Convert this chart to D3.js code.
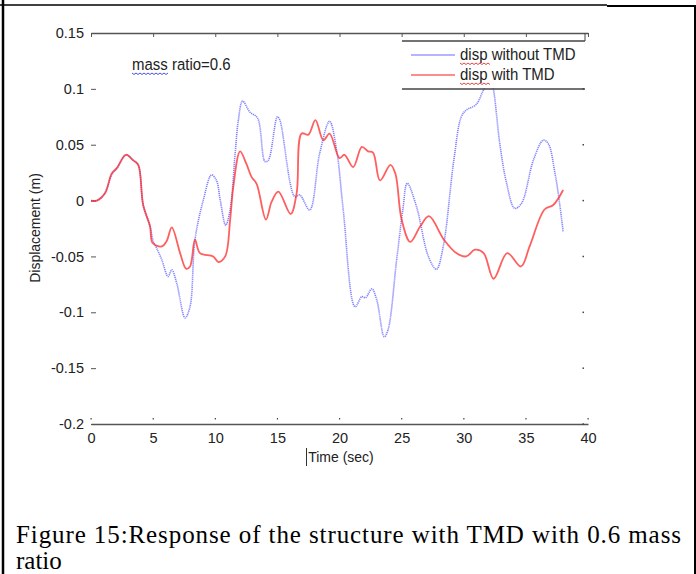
<!DOCTYPE html>
<html>
<head>
<meta charset="utf-8">
<script src="https://cdn.jsdelivr.net/npm/d3@7"></script>
<style>
  body { margin: 0; background: #fff; }
  svg { display: block; }
  .tick text { font-family: "Liberation Sans", Arial, sans-serif; font-size: 14.5px; fill: #222; }
</style>
</head>
<body>
<svg width="696" height="574"></svg>
<script>
// time (sec) and displacement (m)
var tWithout = [0, 0.5, 1.1, 1.7, 2.1, 2.8, 3.4, 3.8, 4.2, 4.75, 5.0, 5.3, 5.7, 6.2, 6.5, 6.9, 7.57, 7.97, 8.37, 9.04, 9.7, 10.1, 10.4, 10.84, 11.2, 11.6, 11.86, 12.2, 12.8, 13.4, 14.0, 14.27, 15.0, 15.2, 16.4, 16.8, 17.6, 18.4, 19.2, 19.77, 20.3, 21.25, 21.8, 22.1, 22.6, 23.0, 23.6, 23.9, 24.6, 25.1, 25.45, 26.2, 27.15, 27.8, 28.35, 29.2, 29.8, 30.2, 31.0, 31.6, 32.2, 32.4, 32.9, 33.45, 34.1, 34.65, 35.6, 36.4, 36.8, 37.35, 37.75, 38.0];
var dispWithout = [0, 0, 0.0065, 0.024, 0.029, 0.041, 0.036, 0.032, -0.004, -0.023, -0.036, -0.043, -0.053, -0.068, -0.062, -0.074, -0.105, -0.095, -0.035, 0.0005, 0.023, 0.018, 0.0005, -0.022, -0.008, 0.042, 0.072, 0.089, 0.079, 0.074, 0.035, 0.036, 0.075, 0.072, 0.0035, 0.005, -0.0084, 0.042, 0.071, 0.045, -0.0084, -0.095, -0.086, -0.087, -0.079, -0.089, -0.122, -0.116, -0.053, -0.008, 0.0155, -0.0055, -0.050, -0.0615, -0.041, 0.036, 0.075, 0.081, 0.086, 0.099, 0.108, 0.099, 0.051, 0.0155, -0.007, -0.0025, 0.036, 0.054, 0.051, 0.024, -0.0055, -0.028];

var tWith = [0, 0.46, 1.13, 1.66, 2.07, 2.82, 3.4, 3.8, 4.2, 4.75, 4.96, 5.7, 6.1, 6.5, 7.17, 7.65, 7.97, 8.37, 8.77, 9.84, 10.25, 10.8, 11.2, 11.45, 12.0, 12.5, 12.93, 13.33, 14.08, 14.54, 15.08, 16.07, 16.55, 16.95, 17.5, 18.06, 18.7, 19.2, 20.0, 20.4, 21.1, 21.8, 22.3, 22.7, 23.26, 24.1, 24.5, 25.0, 25.7, 26.5, 27.2, 28.4, 29.4, 30.2, 30.9, 31.6, 32.4, 33.5, 34.6, 35.3, 36.5, 37.2, 38.0];
var dispWith = [0, 0, 0.0065, 0.024, 0.029, 0.041, 0.036, 0.032, -0.004, -0.023, -0.038, -0.041, -0.036, -0.024, -0.047, -0.061, -0.059, -0.035, -0.047, -0.050, -0.055, -0.050, -0.017, 0.012, 0.044, 0.033, 0.021, 0.015, -0.017, -0.001, 0.008, -0.012, 0.0065, 0.060, 0.059, 0.072, 0.054, 0.060, 0.038, 0.041, 0.030, 0.048, 0.044, 0.043, 0.018, 0.032, 0.024, -0.017, -0.037, -0.023, -0.014, -0.035, -0.047, -0.050, -0.044, -0.047, -0.070, -0.047, -0.059, -0.041, -0.008, -0.004, 0.0095];

var xTicks = [0, 5, 10, 15, 20, 25, 30, 35, 40];
var yTicks = [0.15, 0.1, 0.05, 0, -0.05, -0.1, -0.15, -0.2];
var yTickLabels = ["0.15", "0.1", "0.05", "0", "-0.05", "-0.1", "-0.15", "-0.2"];
var seriesNames = ["disp without TMD", "disp with TMD"];
var caption1 = "Figure 15:Response of the structure with TMD with 0.6 mass";
var caption2 = "ratio";

var svg = d3.select("svg");
svg.append("rect").attr("width", 696).attr("height", 574).attr("fill", "#fff");

// page frame
svg.append("line").attr("x1", 0).attr("x2", 607).attr("y1", 5).attr("y2", 5).attr("stroke", "#000").attr("stroke-width", 1.5);
svg.append("line").attr("x1", 607).attr("x2", 696).attr("y1", 6).attr("y2", 6).attr("stroke", "#000").attr("stroke-width", 2);
svg.append("line").attr("x1", 3).attr("x2", 3).attr("y1", 0).attr("y2", 574).attr("stroke", "#000").attr("stroke-width", 2.5);
svg.append("line").attr("x1", 695).attr("x2", 695).attr("y1", 5).attr("y2", 574).attr("stroke", "#000").attr("stroke-width", 2);

xScale = d3.scaleLinear().domain([0, 40]).range([91, 588]);
yScale = d3.scaleLinear().domain([-0.2, 0.15]).range([424, 33]);

// top axis: line + ticks pointing down, no labels
topAxis = d3.axisTop(xScale).tickValues(xTicks).tickSize(-4).tickSizeOuter(0).tickFormat("");
svg.append("g").attr("transform", "translate(0,33)").call(topAxis);

// bottom axis: line + labels, tick dots above
bottomAxis = d3.axisBottom(xScale).tickValues(xTicks).tickSize(0).tickSizeOuter(0).tickPadding(9).tickFormat(d3.format("d"));
svg.append("g").attr("id", "xAxisG").attr("transform", "translate(0,424)").call(bottomAxis);
svg.append("g").selectAll("rect").data(xTicks).enter().append("rect")
  .attr("x", function (d) { return xScale(d) - 0.5 }).attr("y", 418).attr("width", 1.2).attr("height", 1.5).attr("fill", "#444");

// left axis: labels and short ticks, no line
leftAxis = d3.axisLeft(yScale).tickValues(yTicks).tickSize(-5).tickPadding(7).tickFormat(function (d, i) { return yTickLabels[i] });
svg.append("g").attr("id", "yAxisG").attr("transform", "translate(91,0)").call(leftAxis);
d3.select("#yAxisG .domain").remove();

// right side tick dots
svg.append("g").selectAll("rect").data(yTicks.slice(1)).enter().append("rect")
  .attr("x", 582.5).attr("y", function (d) { return yScale(d) - 0.7 }).attr("width", 1.5).attr("height", 1.5).attr("fill", "#444");

svg.selectAll(".domain").attr("stroke", "#555").attr("stroke-width", 1.6);
svg.selectAll(".tick line").attr("stroke", "#555").attr("stroke-width", 1);

// series
var lineGen = d3.line().x(function (d) { return xScale(d[0]) }).y(function (d) { return yScale(d[1]) }).curve(d3.curveCatmullRom.alpha(0.5));
var blueData = tWithout.map(function (t, i) { return [t, dispWithout[i]] });
var redData = tWith.map(function (t, i) { return [t, dispWith[i]] });

svg.append("path").attr("d", lineGen(blueData)).attr("fill", "none")
  .attr("stroke", "#5a5aff").attr("stroke-width", 1.6).attr("stroke-dasharray", "1.2,0.8").style("opacity", 0.75);
svg.append("path").attr("d", lineGen(redData)).attr("fill", "none")
  .attr("stroke", "#ff2a2a").attr("stroke-width", 1.8).style("opacity", 0.75);

// legend
var lg = svg.append("g");
lg.append("rect").attr("x", 402).attr("y", 42).attr("width", 183).attr("height", 46).attr("fill", "#fff");
lg.append("line").attr("x1", 402).attr("x2", 585).attr("y1", 41).attr("y2", 41).attr("stroke", "#444").attr("stroke-width", 1.5);
lg.append("line").attr("x1", 402).attr("x2", 585).attr("y1", 89).attr("y2", 89).attr("stroke", "#444").attr("stroke-width", 1.5);
lg.append("line").attr("x1", 585).attr("x2", 585).attr("y1", 33).attr("y2", 41).attr("stroke", "#444").attr("stroke-width", 1);
var legendColors = ["#6b6bff", "#ff1a1a"];
seriesNames.forEach(function (name, i) {
  var y = 55 + i * 20;
  lg.append("line").attr("x1", 411).attr("x2", 455).attr("y1", y).attr("y2", y).attr("stroke", legendColors[i]).attr("stroke-width", 1.2);
  lg.append("text").attr("transform", "translate(460," + (y + 5) + ") scale(1,1.1)").text(name)
    .style("font-family", "Liberation Sans, Arial, sans-serif").style("font-size", "15px").attr("fill", "#222");
  // spell-check squiggle under "disp"
  var zz = "M460," + (y + 8);
  for (var k = 1; k <= 15; k++) zz += " L" + (460 + k * 2) + "," + (y + 8 + (k % 2 ? 1.5 : 0));
  lg.append("path").attr("d", zz).attr("fill", "none").attr("stroke", "#e03030").attr("stroke-width", 0.9);
});

// annotation
svg.append("text").attr("transform", "translate(132,70) scale(1,1.1)").text("mass ratio=0.6")
  .style("font-family", "Liberation Sans, Arial, sans-serif").style("font-size", "15px").attr("fill", "#222");
var zb = "M132,73";
for (var k = 1; k <= 18; k++) zb += " L" + (132 + k * 2) + "," + (73 + (k % 2 ? 1.5 : 0));
svg.append("path").attr("d", zb).attr("fill", "none").attr("stroke", "#3040e0").attr("stroke-width", 0.9);

// axis titles
svg.append("text").attr("transform", "translate(341,462) scale(1,1.1)").attr("text-anchor", "middle").text("Time (sec)")
  .style("font-family", "Liberation Sans, Arial, sans-serif").style("font-size", "14px").attr("fill", "#222");
svg.append("line").attr("x1", 306.5).attr("x2", 306.5).attr("y1", 448).attr("y2", 466).attr("stroke", "#333").attr("stroke-width", 1);
svg.append("text").attr("transform", "translate(40,228) rotate(-90)").attr("text-anchor", "middle").text("Displacement (m)")
  .style("font-family", "Liberation Sans, Arial, sans-serif").style("font-size", "14px").attr("fill", "#222");

// caption
svg.append("text").attr("x", 16).attr("y", 543).attr("textLength", 665).attr("lengthAdjust", "spacing").text(caption1)
  .style("font-family", "Liberation Serif, Times New Roman, serif").style("font-size", "25px").attr("fill", "#000");
svg.append("text").attr("x", 16).attr("y", 569).text(caption2)
  .style("font-family", "Liberation Serif, Times New Roman, serif").style("font-size", "25px").attr("fill", "#000");
</script>
</body>
</html>
